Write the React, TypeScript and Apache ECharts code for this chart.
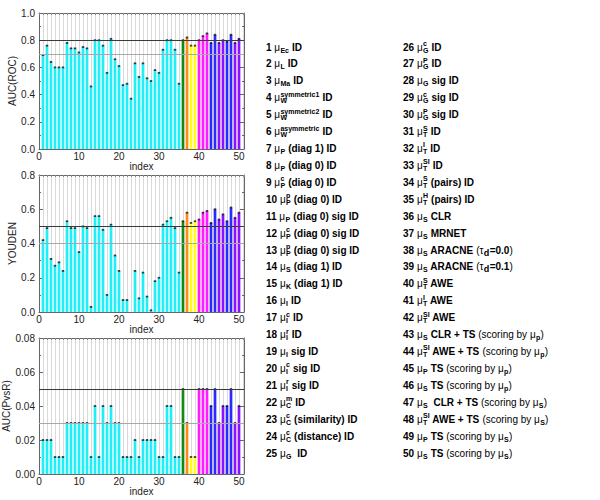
import React, { useEffect, useRef } from "react";
import * as echarts from "echarts";

// ---------------- data ----------------
const INDEX = [
  1, 2, 3, 4, 5, 6, 7, 8, 9, 10, 11, 12, 13, 14, 15, 16, 17, 18, 19, 20, 21, 22, 23, 24, 25,
  26, 27, 28, 29, 30, 31, 32, 33, 34, 35, 36, 37, 38, 39, 40, 41, 42, 43, 44, 45, 46, 47, 48, 49, 50,
];

const AUC_ROC = [
  0.69, 0.76, 0.64, 0.6, 0.6, 0.6, 0.78, 0.74, 0.74, 0.71,
  0.75, 0.74, 0.46, 0.8, 0.8, 0.76, 0.56, 0.81, 0.66, 0.61,
  0.47, 0.48, 0.37, 0.63, 0.53, 0.63, 0.52, 0.5, 0.58, 0.56,
  0.73, 0.8, 0.8, 0.73, 0.48, 0.8, 0.82, 0.76, 0.76, 0.8,
  0.83, 0.85, 0.78, 0.84, 0.78, 0.8, 0.79, 0.84, 0.78, 0.81,
];

const YOUDEN = [
  0.42, 0.49, 0.31, 0.27, 0.29, 0.24, 0.53, 0.49, 0.49, 0.35,
  0.5, 0.49, 0.03, 0.56, 0.56, 0.48, 0.1, 0.51, 0.33, 0.24,
  0.07, 0.07, 0.0, 0.24, 0.08, 0.23, 0.09, 0.01, 0.18, 0.2,
  0.51, 0.53, 0.55, 0.49, 0.23, 0.53, 0.58, 0.52, 0.53, 0.54,
  0.58, 0.59, 0.52, 0.6, 0.54, 0.57, 0.53, 0.61, 0.55, 0.58,
];

const AUC_PVSR = [
  0.02, 0.02, 0.02, 0.01, 0.01, 0.01, 0.03, 0.03, 0.03, 0.03,
  0.03, 0.03, 0.01, 0.04, 0.01, 0.04, 0.03, 0.04, 0.03, 0.03,
  0.01, 0.01, 0.01, 0.02, 0.01, 0.02, 0.02, 0.02, 0.02, 0.01,
  0.01, 0.04, 0.04, 0.01, 0.01, 0.05, 0.03, 0.01, 0.01, 0.05,
  0.05, 0.05, 0.04, 0.05, 0.03, 0.04, 0.04, 0.05, 0.03, 0.04,
];

// method group of each index (c cyan, g green, o orange, y yellow, m magenta, b blue, p purple)
const GROUP = "cccccccccccccccccccccccccccccccccccgoyymmmbbppbbpp";

const ROC_LINES = [0.8, 0.7];
const YOUDEN_LINES = [0.5, 0.4];
const PVSR_LINES = [0.05, 0.03];

const PANEL_NAMES = ["AUC(ROC)", "YOUDEN", "AUC(PvsR)"];
const Y_MAX = [1.0, 0.8, 0.08];
const Y_STEP = [0.2, 0.2, 0.02];
const Y_DECIMALS = [1, 1, 2];
const X_TICKS = [0, 10, 20, 30, 40, 50];
const X_MAX = 51.25;

const LEGEND_LABELS = [
  "μ_{Ec} ID",
  "μ_{L} ID",
  "μ_{Ma} ID",
  "μ_{W}^{symmetric1} ID",
  "μ_{W}^{symmetric2} ID",
  "μ_{W}^{asymmetric} ID",
  "μ_{P} (diag 1) ID",
  "μ_{P} (diag 0) ID",
  "μ_{P}^{c} (diag 0) ID",
  "μ_{P}^{p} (diag 0) ID",
  "μ_{P} (diag 0) sig ID",
  "μ_{P}^{c} (diag 0) sig ID",
  "μ_{P}^{p} (diag 0) sig ID",
  "μ_{S} (diag 1) ID",
  "μ_{K} (diag 1) ID",
  "μ_{I} ID",
  "μ_{I}^{c} ID",
  "μ_{I}^{r} ID",
  "μ_{I} sig ID",
  "μ_{I}^{c} sig ID",
  "μ_{I}^{r} sig ID",
  "μ_{C}^{m} ID",
  "μ_{C}^{c} (similarity) ID",
  "μ_{C}^{c} (distance) ID",
  "μ_{G}  ID",
  "μ_{G}^{c} ID",
  "μ_{G}^{P} ID",
  "μ_{G} sig ID",
  "μ_{G}^{c} sig ID",
  "μ_{G}^{P} sig ID",
  "μ_{T}^{S} ID",
  "μ_{T}^{I} ID",
  "μ_{T}^{SI} ID",
  "μ_{T}^{S} (pairs) ID",
  "μ_{T}^{H} (pairs) ID",
  "μ_{S} CLR",
  "μ_{S} MRNET",
  "μ_{S} ARACNE ~(τ~__{d}=0.0~)~",
  "μ_{S} ARACNE ~(τ~__{d}=0.1~)~",
  "μ_{T}^{S} AWE",
  "μ_{T}^{I} AWE",
  "μ_{T}^{SI} AWE",
  "μ_{S} CLR + TS ~(scoring by μ~_{p}~)~",
  "μ_{T}^{SI} AWE + TS ~(scoring by μ~_{p}~)~",
  "μ_{P} TS ~(scoring by μ~_{p}~)~",
  "μ_{S} TS ~(scoring by μ~_{p}~)~",
  "μ_{S}  CLR + TS ~(scoring by μ~_{S}~)~",
  "μ_{T}^{SI} AWE + TS ~(scoring by μ~_{S}~)~",
  "μ_{P} TS ~(scoring by μ~_{S}~)~",
  "μ_{S} TS ~(scoring by μ~_{S}~)~",
];

// ---------------- styling ----------------
const FF = "'Liberation Sans', Arial, Helvetica, sans-serif";
const COLORS: Record<string, string> = {
  c: "#22eef8",
  g: "#138a13",
  o: "#ff8a1c",
  y: "#ffff1a",
  m: "#ff1aff",
  b: "#2a2aff",
  p: "#8a12ff",
};
const LINE_STYLES = [
  { color: "#3a3a3a", width: 1.2 },
  { color: "#a8a8a8", width: 1 },
];
const GRIDS = [
  { left: 39, top: 13, width: 205, height: 136 },
  { left: 39, top: 175, width: 205, height: 137 },
  { left: 39, top: 338, width: 205, height: 136 },
];
const FRAME = "#666";

type Seg =
  | { kind: "text"; text: string; bold: boolean }
  | { kind: "script"; sub?: string; sup?: string; big?: boolean };

function parseLabel(s: string): Seg[] {
  const segs: Seg[] = [];
  let buf = "";
  let bold = true;
  let i = 0;
  const flush = () => {
    if (buf) {
      segs.push({ kind: "text", text: buf, bold });
      buf = "";
    }
  };
  while (i < s.length) {
    const ch = s[i];
    if (ch === "~") {
      flush();
      bold = !bold;
      i++;
      continue;
    }
    if (ch === "_" || ch === "^") {
      flush();
      const seg: any = { kind: "script" };
      while (i < s.length && (s[i] === "_" || s[i] === "^")) {
        const isSub = s[i] === "_";
        let j = i + 1;
        if (isSub && s[j] === "_") {
          seg.big = true;
          j++;
        }
        const end = s.indexOf("}", j);
        const txt = s.slice(j + 1, end);
        if (isSub) seg.sub = txt;
        else seg.sup = txt;
        i = end + 1;
      }
      segs.push(seg);
      continue;
    }
    buf += ch;
    i++;
  }
  flush();
  return segs;
}

function buildLegend(): any[] {
  const canvas = document.createElement("canvas");
  const ctx = canvas.getContext("2d")!;
  const measure = (t: string, font: string) => {
    ctx.font = font;
    return ctx.measureText(t).width;
  };
  const fBold = `bold 10px ${FF}`;
  const fNorm = `10px ${FF}`;
  const fScript = `bold 7px ${FF}`;
  const fBig = `bold 9px ${FF}`;
  const els: any[] = [];
  const mk = (text: string, x: number, y: number, font: string) => ({
    type: "text",
    x,
    y,
    silent: true,
    style: {
      text,
      font,
      fill: "#000",
      align: "left",
      verticalAlign: "middle",
      textAlign: "left",
      textVerticalAlign: "middle",
    },
  });
  LEGEND_LABELS.forEach((label, k) => {
    const col = k < 25 ? 0 : 1;
    const row = k % 25;
    let x = col === 0 ? 266 : 403;
    const y = 47 + row * 16.92;
    const numText = `${INDEX[k]} `;
    els.push(mk(numText, x, y, fBold));
    x += measure(numText, fBold);
    for (const seg of parseLabel(label)) {
      if (seg.kind === "text") {
        const parts = seg.text.split(/([μτ])/).filter((p) => p.length > 0);
        for (const p of parts) {
          const font = p === "μ" || p === "τ" ? fNorm : seg.bold ? fBold : fNorm;
          els.push(mk(p, x, y, font));
          x += measure(p, font);
        }
      } else {
        let w = 0;
        if (seg.sub) {
          const f = seg.big ? fBig : fScript;
          els.push(mk(seg.sub, x + 0.3, y + (seg.big ? 2.5 : 3), f));
          w = Math.max(w, measure(seg.sub, f) + 0.6);
        }
        if (seg.sup) {
          els.push(mk(seg.sup, x + 0.3, y - 3.6, fScript));
          w = Math.max(w, measure(seg.sup, fScript) + 0.6);
        }
        x += w;
      }
    }
  });
  return els;
}

function buildOption(): any {
  const panels = [
    { values: AUC_ROC, lines: ROC_LINES },
    { values: YOUDEN, lines: YOUDEN_LINES },
    { values: AUC_PVSR, lines: PVSR_LINES },
  ];
  const xAxis: any[] = [];
  const yAxis: any[] = [];
  const series: any[] = [];
  panels.forEach((p, i) => {
    xAxis.push({
      gridIndex: i,
      type: "value",
      position: "bottom",
      min: 0,
      max: X_MAX,
      interval: 10,
      name: "index",
      nameLocation: "middle",
      nameGap: 9,
      nameTextStyle: { fontSize: 10, color: "#222", fontFamily: FF, verticalAlign: "top" },
      axisLine: { show: true, onZero: false, lineStyle: { color: FRAME, width: 1 } },
      axisTick: { show: true, inside: true, length: 4, lineStyle: { color: FRAME } },
      splitLine: { show: false },
      axisLabel: {
        show: true,
        margin: 2,
        fontSize: 10,
        color: "#222",
        fontFamily: FF,
        formatter: (v: number) => (X_TICKS.includes(v) ? String(v) : ""),
      },
    });
    xAxis.push({
      gridIndex: i,
      type: "value",
      position: "top",
      min: 0,
      max: X_MAX,
      interval: 1,
      axisLine: { show: true, onZero: false, lineStyle: { color: FRAME, width: 1 } },
      axisTick: { show: true, inside: true, length: 2, lineStyle: { color: "#888" } },
      splitLine: { show: true, lineStyle: { color: "#d9d9d9", width: 1 } },
      axisLabel: { show: false },
    });
    const dec = Y_DECIMALS[i];
    yAxis.push({
      gridIndex: i,
      type: "value",
      position: "left",
      min: 0,
      max: Y_MAX[i],
      interval: Y_STEP[i],
      name: PANEL_NAMES[i],
      nameLocation: "middle",
      nameGap: 21,
      nameTextStyle: { fontSize: 10, color: "#222", fontFamily: FF },
      axisLine: { show: true, onZero: false, lineStyle: { color: FRAME, width: 1 } },
      axisTick: { show: true, inside: true, length: 4, lineStyle: { color: FRAME } },
      minorTick: { show: true, splitNumber: 2, length: 2, lineStyle: { color: FRAME } },
      splitLine: { show: false },
      axisLabel: {
        margin: 4,
        fontSize: 10,
        color: "#222",
        fontFamily: FF,
        formatter: (v: number) => v.toFixed(dec),
      },
    });
    yAxis.push({
      gridIndex: i,
      type: "value",
      position: "right",
      min: 0,
      max: Y_MAX[i],
      interval: Y_STEP[i],
      axisLine: { show: true, onZero: false, lineStyle: { color: FRAME, width: 1 } },
      axisTick: { show: true, inside: true, length: 4, lineStyle: { color: FRAME } },
      minorTick: { show: true, splitNumber: 2, length: 2, lineStyle: { color: FRAME } },
      splitLine: { show: false },
      axisLabel: { show: false },
    });
    series.push({
      type: "bar",
      xAxisIndex: 2 * i,
      yAxisIndex: 2 * i,
      barWidth: 2.7,
      silent: true,
      data: INDEX.map((x, k) => ({
        value: [x, p.values[k]],
        itemStyle: { color: COLORS[GROUP[k]] },
      })),
      markLine: {
        silent: true,
        symbol: ["none", "none"],
        label: { show: false },
        z: 5,
        data: p.lines.map((v, j) => ({
          yAxis: v,
          lineStyle: { type: "solid", color: LINE_STYLES[j].color, width: LINE_STYLES[j].width },
        })),
      },
    });
    series.push({
      type: "scatter",
      xAxisIndex: 2 * i,
      yAxisIndex: 2 * i,
      symbol: "rect",
      symbolSize: [2.4, 1.8],
      silent: true,
      z: 4,
      itemStyle: { color: "#111" },
      data: INDEX.map((x, k) => [x, p.values[k]]).filter((d) => d[1] > 0),
    });
  });
  return {
    animation: false,
    backgroundColor: "#fff",
    textStyle: { fontFamily: FF },
    grid: GRIDS.map((g) => ({ ...g, containLabel: false })),
    xAxis,
    yAxis,
    series,
    graphic: { elements: buildLegend() },
  };
}

export default function App() {
  const ref = useRef<HTMLDivElement>(null);
  useEffect(() => {
    if (!ref.current) return;
    const chart = echarts.init(ref.current, undefined, { renderer: "svg" });
    chart.setOption(buildOption());
    return () => chart.dispose();
  }, []);
  return (
    <div
      ref={ref}
      style={{ position: "fixed", left: 0, top: 0, width: 600, height: 500, background: "#fff" }}
    />
  );
}
